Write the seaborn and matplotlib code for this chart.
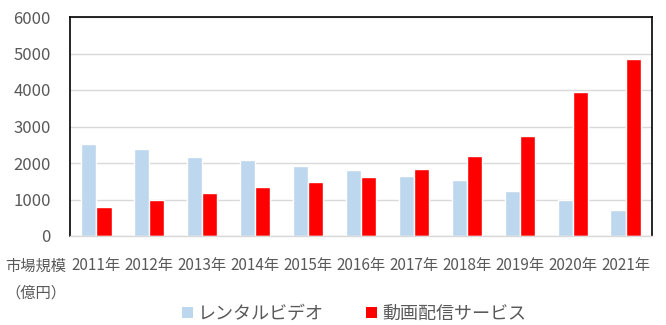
import matplotlib
matplotlib.use("Agg")
import matplotlib.pyplot as plt
import seaborn as sns
import pandas as pd
from matplotlib.patches import Patch

years = ["2011年", "2012年", "2013年", "2014年", "2015年", "2016年",
         "2017年", "2018年", "2019年", "2020年", "2021年"]
rental = [2530, 2390, 2170, 2090, 1920, 1810, 1650, 1540, 1235, 1000, 715]
streaming = [800, 990, 1180, 1345, 1480, 1620, 1840, 2200, 2745, 3950, 4860]
series_names = ["レンタルビデオ", "動画配信サービス"]
colors = ["#BDD7EE", "#FF0000"]

df = pd.DataFrame({
    "year": years * 2,
    "value": rental + streaming,
    "series": [series_names[0]] * len(years) + [series_names[1]] * len(years),
})

sns.set_theme(style="white")
plt.rcParams["font.family"] = ["Noto Sans CJK JP", "DejaVu Sans"]

fig = plt.figure(figsize=(6.66, 3.25), dpi=100)
ax = fig.add_axes([70/666, 1-236/325, 582/666, 219/325])

sns.barplot(data=df, x="year", y="value", hue="series", palette=colors,
            width=0.57, gap=0, ax=ax, legend=False, saturation=1)

ax.set_xlim(-0.5, len(years) - 0.5)
ax.set_ylim(0, 6000)
ax.set_yticks([0, 1000, 2000, 3000, 4000, 5000, 6000])
ax.yaxis.grid(True, color="#D9D9D9", linewidth=1)
ax.set_axisbelow(True)
ax.set_xlabel("")
ax.set_ylabel("")

for s in ["left", "top", "right"]:
    ax.spines[s].set_color("black")
    ax.spines[s].set_linewidth(1.2)
ax.spines["bottom"].set_color("#D9D9D9")
ax.spines["bottom"].set_linewidth(1)

ax.tick_params(axis="y", length=0, pad=14, labelsize=12, labelcolor="#595959")
ax.tick_params(axis="x", length=0, pad=15, labelsize=11, labelcolor="#595959")

fig.text(36/666, 1-280/325, "市場規模\n（億円）", ha="center", va="center",
         fontsize=11, color="#595959", linespacing=1.75)

handles = [Patch(facecolor=c, edgecolor="none") for c in colors]
fig.legend(handles, series_names, loc="center", bbox_to_anchor=(354/666, 1-314/325),
           ncol=2, frameon=False, fontsize=13, labelcolor="#595959",
           handlelength=0.6, handleheight=0.6, handletextpad=0.3, columnspacing=2.3)

fig.savefig("out.png", dpi=100)
